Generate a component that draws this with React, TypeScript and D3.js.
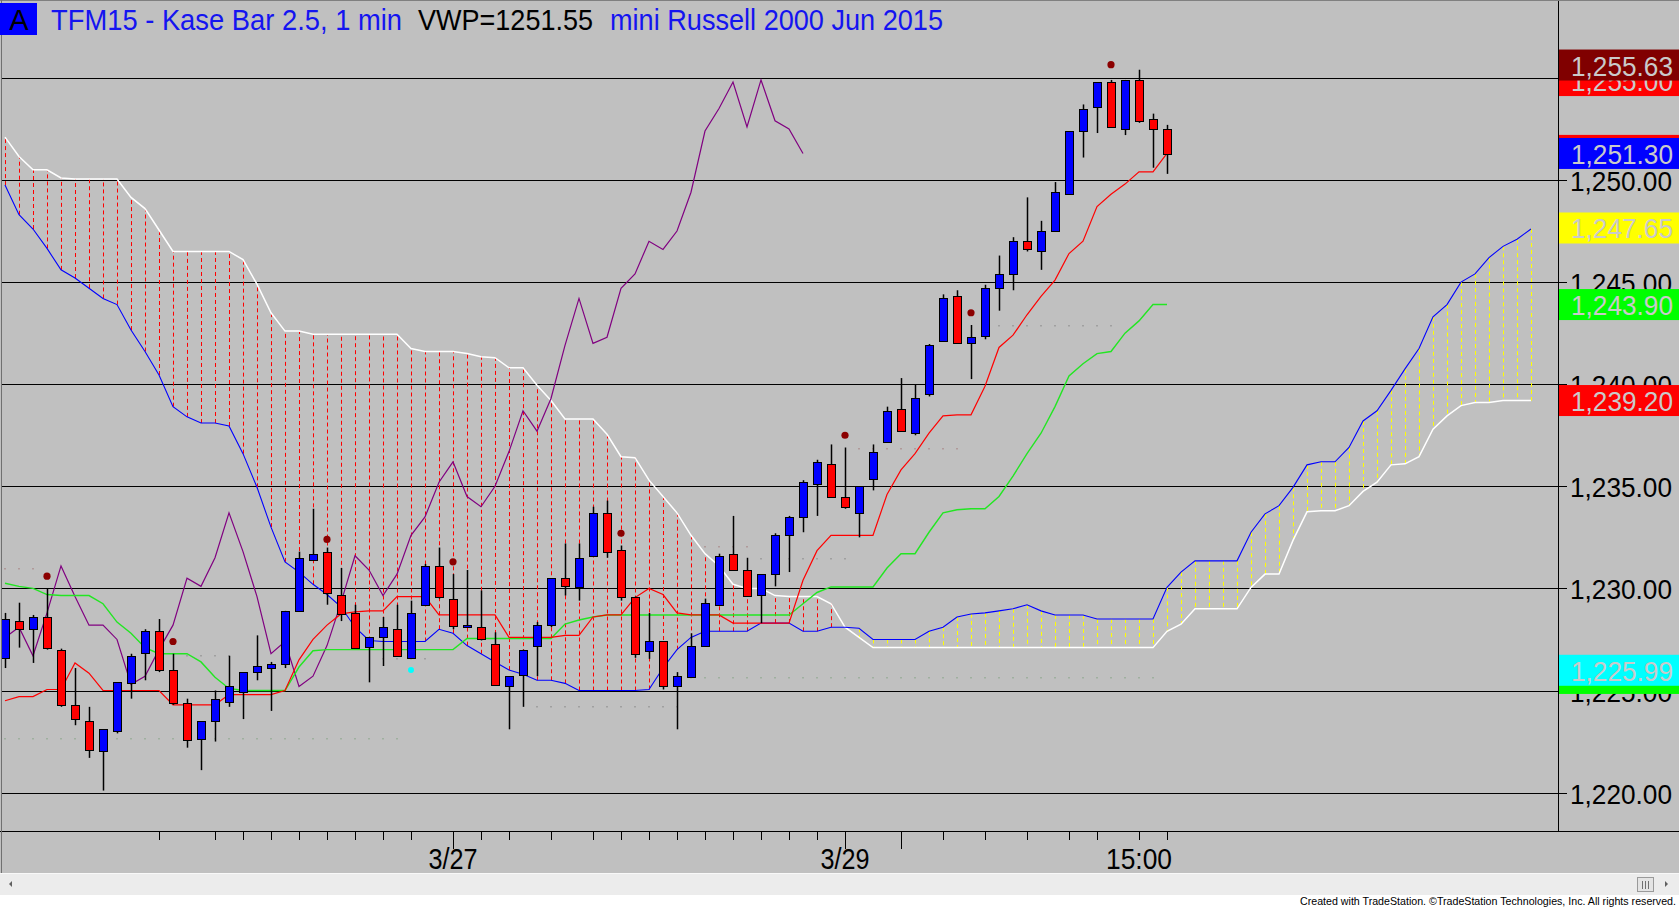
import React, { useRef, useEffect } from "react";
import * as d3 from "d3";

const W = 1679;
const H = 909;
const plotRight = 1558;
const plotBottom = 831;
const font = "'Liberation Sans', Arial, sans-serif";

// Kase bar OHLC, one entry per bar
const opens = [
  1226.6, 1228.4, 1228.0, 1228.6, 1227.0, 1224.3, 1223.5, 1222.0, 1223.0, 1225.4,
  1226.8, 1227.9, 1226.0, 1224.4, 1222.6, 1223.5, 1224.4, 1224.9, 1225.9, 1226.1,
  1226.3, 1228.9, 1231.4, 1231.8, 1229.7, 1228.8, 1227.1, 1227.6, 1228.0, 1226.6,
  1229.2, 1231.1, 1229.5, 1228.1, 1228.1, 1227.3, 1225.2, 1225.8, 1227.15, 1228.2,
  1230.5, 1230.1, 1231.6, 1233.7, 1231.9, 1229.6, 1226.9, 1227.4, 1225.2, 1225.7,
  1227.2, 1229.2, 1231.7, 1230.9, 1229.65, 1230.7, 1232.6, 1233.5, 1235.1, 1236.1,
  1234.5, 1233.7, 1235.4, 1237.2, 1238.8, 1237.6, 1239.5, 1242.1, 1244.3, 1242.0,
  1242.35, 1244.7, 1245.4, 1247.0, 1246.5, 1247.5, 1249.3, 1252.4, 1253.6, 1254.8,
  1252.5, 1254.9, 1253.0, 1252.5,
];
const highs = [
  1228.8, 1229.3, 1228.7, 1230.0, 1227.05, 1226.1, 1224.2, 1223.1, 1225.4, 1226.8,
  1228.0, 1228.5, 1226.8, 1224.6, 1223.5, 1225.0, 1226.7, 1225.9, 1227.7, 1226.4,
  1228.9, 1231.8, 1233.9, 1232.0, 1231.0, 1229.2, 1227.6, 1228.6, 1229.2, 1229.4,
  1231.2, 1232.0, 1230.7, 1230.9, 1229.9, 1227.85, 1225.7, 1227.0, 1228.35, 1230.5,
  1232.2, 1232.2, 1234.0, 1234.3, 1232.1, 1229.6, 1228.8, 1227.4, 1225.9, 1227.8,
  1229.5, 1231.7, 1233.55, 1231.5, 1230.7, 1232.7, 1233.55, 1235.3, 1236.3, 1237.05,
  1236.9, 1235.0, 1237.05, 1238.9, 1240.3, 1240.0, 1241.97, 1244.4, 1244.6, 1242.9,
  1244.87, 1246.3, 1247.2, 1249.15, 1248.0, 1249.9, 1252.4, 1253.7, 1254.8, 1254.9,
  1254.9, 1255.4, 1253.25, 1252.7,
];
const lows = [
  1226.1, 1227.1, 1226.35, 1227.0, 1224.2, 1223.3, 1221.7, 1220.1, 1222.9, 1224.6,
  1225.5, 1225.9, 1224.3, 1222.2, 1221.1, 1222.5, 1224.2, 1223.6, 1225.5, 1224.0,
  1226.1, 1228.9, 1231.4, 1229.2, 1228.4, 1227.1, 1225.4, 1226.2, 1226.7, 1226.6,
  1229.2, 1229.5, 1228.0, 1228.1, 1227.45, 1225.3, 1223.1, 1224.2, 1225.7, 1228.1,
  1229.65, 1229.4, 1231.6, 1231.5, 1229.4, 1226.6, 1226.55, 1225.05, 1223.1, 1225.65,
  1227.2, 1229.2, 1230.9, 1229.6, 1228.3, 1230.1, 1230.8, 1232.75, 1233.55, 1234.5,
  1233.9, 1232.5, 1234.8, 1237.2, 1237.7, 1237.5, 1239.4, 1242.1, 1241.97, 1240.25,
  1242.2, 1243.6, 1244.6, 1246.5, 1245.6, 1247.5, 1249.3, 1251.1, 1252.3, 1252.6,
  1252.2, 1252.8, 1250.6, 1250.3,
];
const closes = [
  1228.5, 1228.0, 1228.6, 1227.1, 1224.3, 1223.6, 1222.1, 1223.1, 1225.4, 1226.7,
  1227.9, 1226.0, 1224.4, 1222.6, 1223.5, 1224.6, 1225.2, 1225.9, 1226.2, 1226.3,
  1228.9, 1231.5, 1231.7, 1229.8, 1228.75, 1227.1, 1227.6, 1228.1, 1226.7, 1228.8,
  1231.1, 1229.6, 1228.2, 1228.2, 1227.5, 1225.3, 1225.7, 1227.0, 1228.2, 1230.5,
  1230.1, 1231.5, 1233.7, 1231.8, 1229.6, 1226.8, 1227.4, 1225.2, 1225.7, 1227.2,
  1229.3, 1231.6, 1230.9, 1229.65, 1230.7, 1232.6, 1233.5, 1235.2, 1236.2, 1234.5,
  1234.0, 1235.0, 1236.7, 1238.7, 1237.7, 1239.3, 1241.9, 1244.2, 1242.0, 1242.3,
  1244.7, 1245.4, 1247.0, 1246.6, 1247.5, 1249.4, 1252.4, 1253.5, 1254.8, 1252.6,
  1254.9, 1252.9, 1252.5, 1251.3,
];

// Ichimoku lines as drawn
const tenkan = [
  1224.5, 1224.7, 1224.7, 1225.05, 1225.05, 1226.35, 1225.85, 1225.0, 1225.0, 1225.0,
  1225.0, 1225.0, 1224.3, 1224.3, 1224.3, 1224.3, 1224.8, 1224.8, 1224.8, 1224.8,
  1225.0, 1226.5, 1227.5, 1228.2, 1228.75, 1228.85, 1228.9, 1228.9, 1229.6, 1229.6,
  1229.6, 1228.7, 1228.7, 1228.7, 1228.7, 1228.7, 1227.6, 1227.6, 1227.6, 1227.6,
  1227.7, 1227.7, 1228.6, 1228.7, 1228.7, 1229.55, 1230.0, 1229.7, 1228.8, 1228.7,
  1228.7, 1228.7, 1228.3, 1228.3, 1228.3, 1228.3, 1228.3, 1230.4, 1231.85, 1232.6,
  1232.6, 1232.6, 1232.6, 1234.6, 1235.8, 1236.6, 1237.6, 1238.45, 1238.5, 1238.5,
  1239.9, 1241.8, 1242.4, 1243.4, 1244.3, 1245.1, 1246.4, 1247.0, 1248.7, 1249.3,
  1249.8, 1250.4, 1250.4, 1251.3,
];
const kijun = [
  1230.25, 1230.1, 1230.0, 1229.7, 1229.65, 1229.65, 1229.65, 1229.25, 1228.35, 1227.8,
  1227.1, 1226.8, 1226.8, 1226.8, 1226.4, 1225.65, 1225.1, 1225.0, 1225.0, 1225.0,
  1225.0, 1226.15, 1226.95, 1227.0, 1227.0, 1227.0, 1227.0, 1227.0, 1227.0, 1227.0,
  1227.0, 1227.0, 1227.0, 1227.55, 1227.55, 1227.55, 1227.55, 1227.55, 1227.55, 1227.55,
  1228.25, 1228.45, 1228.6, 1228.7, 1228.7, 1228.7, 1228.7, 1228.7, 1228.7, 1228.7,
  1228.7, 1228.7, 1228.7, 1228.7, 1228.7, 1228.7, 1228.7, 1229.25, 1229.8, 1230.07,
  1230.07, 1230.07, 1230.07, 1231.0, 1231.7, 1231.7, 1232.75, 1233.7, 1233.85, 1233.9,
  1233.9, 1234.5, 1235.5, 1236.6, 1237.6, 1238.9, 1240.4, 1241.0, 1241.5, 1241.6,
  1242.5, 1243.1, 1243.9, 1243.9,
];
// cloud, already displaced 26 bars forward
const spanA = [
  1249.75, 1248.3, 1247.6, 1246.65, 1245.6, 1245.2, 1244.7, 1244.2, 1243.9, 1242.65,
  1241.6, 1240.45, 1238.9, 1238.4, 1238.1, 1238.1, 1237.95, 1236.6, 1234.95, 1233.0,
  1231.3, 1230.8, 1230.2, 1229.7, 1229.1, 1228.1, 1227.45, 1227.4, 1227.4, 1227.4,
  1227.4, 1228.0, 1227.8, 1227.2, 1226.8, 1226.4, 1226.0, 1225.8, 1225.5, 1225.5,
  1225.35, 1225.0, 1225.0, 1225.0, 1225.0, 1225.0, 1225.05, 1226.1, 1227.0, 1227.6,
  1227.9, 1227.9, 1227.9, 1227.9, 1228.3, 1228.3, 1228.3, 1227.9, 1227.9, 1228.1,
  1228.1, 1228.05, 1227.5, 1227.5, 1227.5, 1227.5, 1227.9, 1228.1, 1228.6, 1228.75,
  1228.8, 1228.9, 1229.0, 1229.2, 1228.9, 1228.7, 1228.7, 1228.7, 1228.5, 1228.5,
  1228.5, 1228.5, 1228.5, 1230.05, 1230.8, 1231.35, 1231.35, 1231.35, 1231.35, 1232.75,
  1233.65, 1234.05, 1234.95, 1236.05, 1236.2, 1236.2, 1236.9, 1238.2, 1238.7, 1239.7,
  1240.75, 1241.75, 1243.3, 1243.9, 1245.0, 1245.4, 1246.2, 1246.75, 1247.1, 1247.6,
];
const spanB = [
  1252.1, 1251.15, 1250.5, 1250.5, 1250.1, 1250.05, 1250.05, 1250.05, 1250.05, 1249.15,
  1248.6, 1247.55, 1246.5, 1246.5, 1246.5, 1246.5, 1246.5, 1246.1, 1244.9, 1243.5,
  1242.6, 1242.6, 1242.45, 1242.45, 1242.45, 1242.45, 1242.45, 1242.45, 1242.45, 1241.75,
  1241.6, 1241.6, 1241.6, 1241.5, 1241.35, 1241.3, 1240.8, 1240.8, 1239.95, 1239.2,
  1238.3, 1238.3, 1238.3, 1237.55, 1236.45, 1236.4, 1235.3, 1234.5, 1233.7, 1232.6,
  1231.7, 1231.1, 1230.2, 1230.0, 1230.0, 1229.65, 1229.6, 1229.6, 1229.6, 1229.25,
  1228.1, 1227.6, 1227.1, 1227.1, 1227.1, 1227.1, 1227.1, 1227.1, 1227.1, 1227.1,
  1227.1, 1227.1, 1227.1, 1227.1, 1227.1, 1227.1, 1227.1, 1227.1, 1227.1, 1227.1,
  1227.1, 1227.1, 1227.1, 1227.9, 1228.25, 1229.0, 1229.0, 1229.0, 1229.0, 1230.05,
  1230.7, 1230.7, 1232.35, 1233.75, 1233.8, 1233.8, 1234.05, 1234.75, 1235.2, 1236.05,
  1236.1, 1236.45, 1237.8, 1238.45, 1238.95, 1239.1, 1239.1, 1239.2, 1239.2, 1239.2,
];
// lagging span: close plotted 26 bars back
const lagBars = 26;
const chikou = closes.slice(lagBars);

const gridLevels = [1220, 1225, 1230, 1235, 1240, 1245, 1250, 1255];
const gridLabels = ["1,220.00", "1,225.00", "1,230.00", "1,235.00", "1,240.00", "1,245.00", "1,250.00", "1,255.00"];

const signalDots = [
  { bar: 3, price: 1230.6 },
  { bar: 12, price: 1227.4 },
  { bar: 23, price: 1232.4 },
  { bar: 32, price: 1231.3 },
  { bar: 44, price: 1232.7 },
  { bar: 60, price: 1237.5 },
  { bar: 69, price: 1243.5 },
  { bar: 79, price: 1255.65 },
];
const lowDots = [{ bar: 29, price: 1226.0 }];

const dottedLevels = [
  { price: 1231.0, from: 0, to: 2, color: "#b09a9a" },
  { price: 1222.65, from: 0, to: 28, color: "#9fb09f" },
  { price: 1226.75, from: 13, to: 16, color: "#a0a0a0" },
  { price: 1226.6, from: 27, to: 30, color: "#a0a0a0" },
  { price: 1224.25, from: 38, to: 48, color: "#a0a0a0" },
  { price: 1225.65, from: 49, to: 82, color: "#9fb09f" },
  { price: 1232.1, from: 50, to: 53, color: "#b09a9a" },
  { price: 1231.5, from: 54, to: 60, color: "#a0a0a0" },
  { price: 1236.9, from: 61, to: 68, color: "#b09a9a" },
  { price: 1242.9, from: 71, to: 79, color: "#a0a0a0" },
];

const tickBars = [11, 15, 17, 19, 21, 23, 25, 27, 29, 32, 34, 36, 39, 42, 44, 46, 48, 50, 52, 54, 56, 58, 60, 64, 67, 70, 73, 76, 78, 81, 83];
const longTickBars = [32, 60, 64];
const dateLabels = [
  { bar: 32, text: "3/27", w: 49 },
  { bar: 60, text: "3/29", w: 49 },
  { bar: 81, text: "15:00", w: 66 },
];

const priceTags = [
  { price: 1254.87, text: "1,255.00", fill: "#ff0000" },
  { price: 1255.63, text: "1,255.63", fill: "#800000" },
  { price: 1251.45, text: "", fill: "#ff0000" },
  { price: 1251.3, text: "1,251.30", fill: "#0000ff" },
  { price: 1247.65, text: "1,247.65", fill: "#ffff00" },
  { price: 1243.9, text: "1,243.90", fill: "#00ff00" },
  { price: 1239.2, text: "1,239.20", fill: "#ff0000" },
  { price: 1225.59, text: "", fill: "#00ff00" },
  { price: 1225.99, text: "1,225.99", fill: "#00ffff" },
];

const App: React.FC = () => {
  const ref = useRef<SVGSVGElement | null>(null);

  useEffect(() => {
    const svg = d3.select(ref.current);
    svg.selectAll("*").remove();

    const x = d3.scaleLinear().domain([0, 1]).range([5, 19]);
    const y = d3.scaleLinear().domain([1220, 1250]).range([792.6, 180]);
    const cx = (i: number) => Math.round(x(i)) + 0.5;
    const cy = (p: number) => Math.round(y(p)) + 0.5;

    svg.append("rect").attr("width", W).attr("height", H).attr("fill", "#ffffff");
    svg.append("rect").attr("width", W).attr("height", 873).attr("fill", "#c0c0c0");

    svg
      .append("defs")
      .append("clipPath")
      .attr("id", "plotClip")
      .append("rect")
      .attr("x", 2)
      .attr("y", 0)
      .attr("width", plotRight - 2)
      .attr("height", plotBottom);

    const plot = svg.append("g").attr("clip-path", "url(#plotClip)");

    // horizontal grid
    plot
      .selectAll("line.grid")
      .data(gridLevels)
      .enter()
      .append("line")
      .attr("x1", 0)
      .attr("x2", plotRight)
      .attr("y1", (d) => cy(d))
      .attr("y2", (d) => cy(d))
      .attr("stroke", "#000")
      .attr("stroke-width", 1);

    // cloud hatching
    const cloudBars = d3.range(spanA.length).filter((i) => Math.abs(spanA[i] - spanB[i]) > 0.05);
    plot
      .selectAll("line.hatch")
      .data(cloudBars)
      .enter()
      .append("line")
      .attr("x1", (i) => cx(i))
      .attr("x2", (i) => cx(i))
      .attr("y1", (i) => y(spanA[i]))
      .attr("y2", (i) => y(spanB[i]))
      .attr("stroke", (i) => (spanB[i] > spanA[i] ? "#ff0000" : "#ffff00"))
      .attr("stroke-width", 1)
      .attr("stroke-dasharray", "4,3");

    const line = d3
      .line<number>()
      .x((_, i) => x(i))
      .y((d) => y(d));

    plot.append("path").attr("d", line(spanB)).attr("fill", "none").attr("stroke", "#ffffff").attr("stroke-width", 1.5);
    plot.append("path").attr("d", line(spanA)).attr("fill", "none").attr("stroke", "#0000ff").attr("stroke-width", 1.1);

    // dotted pivot levels
    dottedLevels.forEach((lv) => {
      plot
        .selectAll(null)
        .data(d3.range(lv.from, lv.to + 1))
        .enter()
        .append("rect")
        .attr("x", (i) => Math.round(x(i)) - 1)
        .attr("y", Math.round(y(lv.price)))
        .attr("width", 2)
        .attr("height", 1.5)
        .attr("fill", lv.color);
    });

    plot.append("path").attr("d", line(chikou)).attr("fill", "none").attr("stroke", "#800080").attr("stroke-width", 1.2);
    plot.append("path").attr("d", line(kijun)).attr("fill", "none").attr("stroke", "#22e622").attr("stroke-width", 1.4);
    plot.append("path").attr("d", line(tenkan)).attr("fill", "none").attr("stroke", "#ff0000").attr("stroke-width", 1.2);

    // candles
    const bars = d3.range(closes.length);
    plot
      .selectAll("line.wick")
      .data(bars)
      .enter()
      .append("line")
      .attr("x1", (i) => cx(i))
      .attr("x2", (i) => cx(i))
      .attr("y1", (i) => y(highs[i]))
      .attr("y2", (i) => y(lows[i]))
      .attr("stroke", "#000")
      .attr("stroke-width", 1.5);

    plot
      .selectAll("rect.body")
      .data(bars)
      .enter()
      .append("rect")
      .attr("x", (i) => cx(i) - 4)
      .attr("y", (i) => Math.round(y(Math.max(opens[i], closes[i]))) + 0.5)
      .attr("width", 8)
      .attr("height", (i) => Math.max(2, Math.round(Math.abs(y(opens[i]) - y(closes[i])))))
      .attr("fill", (i) => (closes[i] >= opens[i] ? "#0000ff" : "#ff0000"))
      .attr("stroke", "#000")
      .attr("stroke-width", 1);

    plot
      .selectAll("circle.sig")
      .data(signalDots)
      .enter()
      .append("circle")
      .attr("cx", (d) => x(d.bar))
      .attr("cy", (d) => y(d.price))
      .attr("r", 3.6)
      .attr("fill", "#8b0000");

    plot
      .selectAll("circle.low")
      .data(lowDots)
      .enter()
      .append("circle")
      .attr("cx", (d) => x(d.bar))
      .attr("cy", (d) => y(d.price))
      .attr("r", 3)
      .attr("fill", "#00ffff");

    // frame
    svg.append("line").attr("x1", plotRight + 0.5).attr("x2", plotRight + 0.5).attr("y1", 0).attr("y2", plotBottom).attr("stroke", "#000");
    svg.append("line").attr("x1", 0).attr("x2", W).attr("y1", plotBottom + 0.5).attr("y2", plotBottom + 0.5).attr("stroke", "#000");
    svg.append("line").attr("x1", 0).attr("x2", W).attr("y1", 0.5).attr("y2", 0.5).attr("stroke", "#808080");
    svg.append("line").attr("x1", 1.5).attr("x2", 1.5).attr("y1", 0).attr("y2", 873).attr("stroke", "#707070");

    // right price axis
    const axis = svg.append("g");
    axis
      .selectAll("line.tick")
      .data(gridLevels)
      .enter()
      .append("line")
      .attr("x1", plotRight)
      .attr("x2", plotRight + 9)
      .attr("y1", (d) => cy(d))
      .attr("y2", (d) => cy(d))
      .attr("stroke", "#000");
    axis
      .selectAll("text.lbl")
      .data(gridLevels)
      .enter()
      .append("text")
      .attr("x", 1570)
      .attr("y", (d) => y(d) + 11)
      .attr("font-family", font)
      .attr("font-size", 28)
      .attr("textLength", 102)
      .attr("lengthAdjust", "spacingAndGlyphs")
      .attr("fill", "#000")
      .text((_, i) => gridLabels[i]);

    const tags = axis.selectAll("g.tag").data(priceTags).enter().append("g");
    tags
      .append("rect")
      .attr("x", plotRight + 1)
      .attr("y", (d) => y(d.price) - 15.5)
      .attr("width", W - plotRight)
      .attr("height", 31)
      .attr("fill", (d) => d.fill);
    tags
      .append("text")
      .attr("x", 1571)
      .attr("y", (d) => y(d.price) + 10.5)
      .attr("font-family", font)
      .attr("font-size", 28)
      .attr("textLength", (d) => (d.text ? 102 : null))
      .attr("lengthAdjust", "spacingAndGlyphs")
      .attr("fill", "#cacaca")
      .text((d) => d.text);

    // time axis
    svg
      .selectAll("line.xtick")
      .data(tickBars)
      .enter()
      .append("line")
      .attr("x1", (i) => cx(i))
      .attr("x2", (i) => cx(i))
      .attr("y1", plotBottom)
      .attr("y2", (i) => (longTickBars.includes(i) ? plotBottom + 18 : plotBottom + 9))
      .attr("stroke", "#000");
    svg
      .selectAll("text.date")
      .data(dateLabels)
      .enter()
      .append("text")
      .attr("x", (d) => x(d.bar) - d.w / 2)
      .attr("y", 869)
      .attr("font-family", font)
      .attr("font-size", 29)
      .attr("textLength", (d) => d.w)
      .attr("lengthAdjust", "spacingAndGlyphs")
      .attr("fill", "#000")
      .text((d) => d.text);

    // title
    svg.append("rect").attr("x", 0).attr("y", 3).attr("width", 37).attr("height", 32).attr("fill", "#0000ff");
    svg
      .append("text")
      .attr("x", 19)
      .attr("y", 30)
      .attr("text-anchor", "middle")
      .attr("font-family", font)
      .attr("font-size", 29)
      .attr("fill", "#000")
      .text("A");
    const titleParts = [
      { text: "TFM15 - Kase Bar 2.5, 1 min", x: 51, w: 351, color: "#1414f0" },
      { text: "VWP=1251.55", x: 418, w: 175, color: "#000000" },
      { text: "mini Russell 2000 Jun 2015", x: 610, w: 333, color: "#1414f0" },
    ];
    svg
      .selectAll("text.title")
      .data(titleParts)
      .enter()
      .append("text")
      .attr("x", (d) => d.x)
      .attr("y", 30)
      .attr("font-family", font)
      .attr("font-size", 29)
      .attr("textLength", (d) => d.w)
      .attr("lengthAdjust", "spacingAndGlyphs")
      .attr("fill", (d) => d.color)
      .text((d) => d.text);

    // scrollbar and footer
    svg.append("rect").attr("x", 0).attr("y", 873).attr("width", W).attr("height", 22).attr("fill", "#ececec");
    svg.append("line").attr("x1", 0).attr("x2", W).attr("y1", 873.5).attr("y2", 873.5).attr("stroke", "#f8f8f8");
    svg.append("path").attr("d", "M9,884 L12,881 L12,887 Z").attr("fill", "#606060");
    svg.append("rect").attr("x", 1637.5).attr("y", 877.5).attr("width", 16).attr("height", 14).attr("fill", "#e4e4e4").attr("stroke", "#9a9a9a");
    [1642, 1645, 1648].forEach((lx) =>
      svg.append("line").attr("x1", lx + 0.5).attr("x2", lx + 0.5).attr("y1", 881).attr("y2", 889).attr("stroke", "#707070")
    );
    svg.append("path").attr("d", "M1665,881 L1668,884 L1665,887 Z").attr("fill", "#606060");
    svg
      .append("text")
      .attr("x", 1300)
      .attr("y", 905)
      .attr("font-family", font)
      .attr("font-size", 11.5)
      .attr("textLength", 376)
      .attr("lengthAdjust", "spacingAndGlyphs")
      .attr("fill", "#000")
      .text("Created with TradeStation. \u00A9TradeStation Technologies, Inc. All rights reserved.");
  }, []);

  return <svg ref={ref} width={W} height={H} style={{ position: "absolute", left: 0, top: 0 }} />;
};

export default App;
